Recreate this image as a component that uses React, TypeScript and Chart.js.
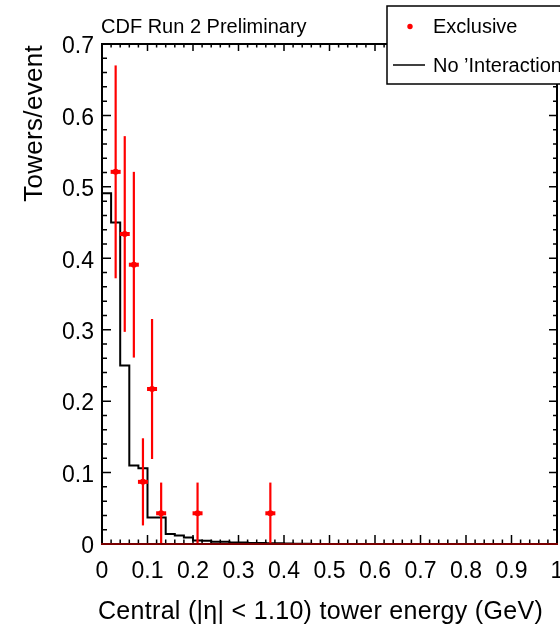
import React, { useEffect, useRef } from "react";
import { Chart, registerables } from "chart.js";

Chart.register(...registerables);

// ---------- data ----------
const binEdges = [
  0, 0.02, 0.04, 0.06, 0.08, 0.1, 0.12, 0.14, 0.16, 0.18, 0.2, 0.22, 0.24, 0.26, 0.28, 0.3,
  0.32, 0.34, 0.36, 0.38, 0.4, 0.42, 0.44, 0.46, 0.48, 0.5, 0.52, 0.54, 0.56, 0.58, 0.6,
  0.62, 0.64, 0.66, 0.68, 0.7, 0.72, 0.74, 0.76, 0.78, 0.8, 0.82, 0.84, 0.86, 0.88, 0.9,
  0.92, 0.94, 0.96, 0.98, 1.0,
];
// "No 'Interaction'" histogram content per bin (50 bins)
const noInteractionValues = [
  0.010, 0.491, 0.450, 0.250, 0.110, 0.106, 0.037, 0.037, 0.014, 0.012,
  0.009, 0.005, 0.0045, 0.003, 0.003, 0.002, 0.002, 0.0015, 0.0015, 0.001,
  0.001, 0.0008, 0.0005, 0.0005, 0, 0, 0, 0, 0, 0,
  0, 0, 0, 0, 0, 0, 0, 0, 0, 0,
  0, 0, 0, 0, 0, 0, 0, 0, 0, 0,
];
// "Exclusive" points with vertical errors
const exclusiveX = [0.03, 0.05, 0.07, 0.09, 0.11, 0.13, 0.21, 0.37];
const exclusiveY = [0.521, 0.434, 0.391, 0.087, 0.217, 0.043, 0.043, 0.043];
const exclusiveErr = [0.149, 0.137, 0.13, 0.061, 0.098, 0.043, 0.043, 0.043];

const xTickLabels = ["0", "0.1", "0.2", "0.3", "0.4", "0.5", "0.6", "0.7", "0.8", "0.9", "1"];
const yTickLabels = ["0", "0.1", "0.2", "0.3", "0.4", "0.5", "0.6", "0.7"];

const TITLE = "CDF Run 2 Preliminary";
const X_TITLE = "Central (|\u03b7| < 1.10) tower energy (GeV)";
const Y_TITLE = "Towers/event";
const LABEL_EXCL = "Exclusive";
const LABEL_NOINT = "No \u2019Interaction\u2019";

const FONT = "'Liberation Sans', Arial, Helvetica, sans-serif";

const decorPlugin = {
  id: "decor",
  afterDatasetsDraw(chart: any) {
    const ctx = chart.ctx;
    const xs = chart.scales.x;
    const ys = chart.scales.y;
    ctx.save();
    ctx.strokeStyle = "#ff0000";
    ctx.fillStyle = "#ff0000";
    exclusiveX.forEach((xv, i) => {
      const px = xs.getPixelForValue(xv);
      const py = ys.getPixelForValue(exclusiveY[i]);
      const pTop = ys.getPixelForValue(exclusiveY[i] + exclusiveErr[i]);
      const pBot = ys.getPixelForValue(Math.max(0, exclusiveY[i] - exclusiveErr[i]));
      ctx.lineWidth = 2.2;
      ctx.beginPath();
      ctx.moveTo(px, pTop);
      ctx.lineTo(px, pBot);
      ctx.stroke();
      ctx.fillRect(px - 5, py - 2, 10, 4);
      ctx.beginPath();
      ctx.arc(px, py, 3, 0, Math.PI * 2);
      ctx.fill();
    });
    ctx.restore();
  },
  afterDraw(chart: any) {
    const ctx = chart.ctx;
    const xs = chart.scales.x;
    const ys = chart.scales.y;
    const { left, right, top, bottom } = chart.chartArea;
    ctx.save();
    // frame
    ctx.strokeStyle = "#000";
    ctx.lineWidth = 2;
    ctx.beginPath();
    ctx.moveTo(left, bottom);
    ctx.lineTo(left, top);
    ctx.lineTo(right, top);
    ctx.lineTo(right, bottom);
    ctx.stroke();
    // ticks
    ctx.lineWidth = 1.5;
    ctx.beginPath();
    for (let k = 0; k <= 50; k++) {
      const v = k * 0.02;
      const px = xs.getPixelForValue(v);
      const major = k % 5 === 0;
      const lb = major ? 9 : 4.5;
      const lt = major ? 7 : 3.5;
      ctx.moveTo(px, bottom);
      ctx.lineTo(px, bottom - lb);
      ctx.moveTo(px, top);
      ctx.lineTo(px, top + lt);
    }
    for (let k = 0; k <= 35; k++) {
      const v = k * 0.02;
      const py = ys.getPixelForValue(v);
      const major = k % 5 === 0;
      const ll = major ? 9 : 5;
      const lr = major ? 8 : 4;
      ctx.moveTo(left, py);
      ctx.lineTo(left + ll, py);
      ctx.moveTo(right, py);
      ctx.lineTo(right - lr, py);
    }
    ctx.stroke();
    // bottom axis line (dark red)
    ctx.strokeStyle = "#7a0000";
    ctx.lineWidth = 2;
    ctx.beginPath();
    ctx.moveTo(left - 1, bottom);
    ctx.lineTo(right + 1, bottom);
    ctx.stroke();

    // titles
    ctx.fillStyle = "#000";
    ctx.textBaseline = "alphabetic";
    ctx.font = `20px ${FONT}`;
    ctx.textAlign = "left";
    ctx.fillText(TITLE, left - 1, 33);

    ctx.font = `25px ${FONT}`;
    ctx.textAlign = "left";
    (ctx as any).letterSpacing = "0.3px";
    ctx.fillText(X_TITLE, 98, 619);

    ctx.save();
    ctx.translate(42, top + 1);
    ctx.rotate(-Math.PI / 2);
    ctx.font = `26px ${FONT}`;
    ctx.textAlign = "right";
    ctx.fillText(Y_TITLE, 0, 0);
    ctx.restore();
    (ctx as any).letterSpacing = "0px";

    // legend
    const lx = 387, ly = 6, lw = 200, lh = 78;
    ctx.fillStyle = "#fff";
    ctx.fillRect(lx, ly, lw, lh);
    ctx.strokeStyle = "#000";
    ctx.lineWidth = 1.5;
    ctx.strokeRect(lx, ly, lw, lh);
    const dsEx = chart.data.datasets[0];
    const dsNo = chart.data.datasets[1];
    ctx.fillStyle = dsEx.pointBackgroundColor;
    ctx.beginPath();
    ctx.arc(410, 26.5, 2.7, 0, Math.PI * 2);
    ctx.fill();
    ctx.strokeStyle = dsNo.borderColor;
    ctx.lineWidth = 1.5;
    ctx.beginPath();
    ctx.moveTo(393, 65);
    ctx.lineTo(425, 65);
    ctx.stroke();
    ctx.fillStyle = "#000";
    ctx.font = `20px ${FONT}`;
    ctx.textAlign = "left";
    ctx.fillText(dsEx.label, 433, 33);
    ctx.fillText(dsNo.label, 433, 72);
    ctx.restore();
  },
};

export default function App() {
  const ref = useRef<HTMLCanvasElement | null>(null);
  useEffect(() => {
    if (!ref.current) return;
    const histData = binEdges.map((e, i) => ({
      x: e,
      y: i < noInteractionValues.length ? noInteractionValues[i] : noInteractionValues[noInteractionValues.length - 1],
    }));
    const exclData = exclusiveX.map((x, i) => ({ x, y: exclusiveY[i] }));
    const chart = new Chart(ref.current, {
      type: "scatter",
      data: {
        datasets: [
          {
            label: LABEL_EXCL,
            data: exclData,
            showLine: false,
            pointRadius: 0,
            pointBackgroundColor: "#ff0000",
            borderColor: "#ff0000",
          } as any,
          {
            label: LABEL_NOINT,
            type: "line",
            data: histData,
            stepped: "after",
            borderColor: "#000000",
            borderWidth: 2,
            pointRadius: 0,
            fill: false,
          } as any,
        ],
      },
      options: {
        responsive: false,
        animation: false,
        devicePixelRatio: 1,
        layout: { padding: { top: 44, right: 3, left: 0, bottom: 0 } },
        plugins: { legend: { display: false }, tooltip: { enabled: false }, title: { display: false } },
        scales: {
          x: {
            type: "linear",
            min: 0,
            max: 1,
            grid: { display: false, drawTicks: false },
            border: { display: false },
            ticks: {
              stepSize: 0.1,
              autoSkip: false,
              maxRotation: 0,
              color: "#000",
              padding: 14,
              font: { size: 23, family: FONT },
              callback: (v: any, i: number) => xTickLabels[i] ?? "",
            },
            afterFit: (s: any) => {
              s.height = 84;
              s.paddingLeft = 0;
              s.paddingRight = 0;
            },
          },
          y: {
            type: "linear",
            min: 0,
            max: 0.7,
            grid: { display: false, drawTicks: false },
            border: { display: false },
            ticks: {
              stepSize: 0.1,
              autoSkip: false,
              color: "#000",
              padding: 8,
              labelOffset: 3,
              font: { size: 23, family: FONT },
              callback: (v: any, i: number) => yTickLabels[i] ?? "",
            },
            afterFit: (s: any) => {
              s.width = 102;
              s.paddingTop = 0;
              s.paddingBottom = 0;
            },
          },
        },
      },
      plugins: [decorPlugin],
    });
    return () => chart.destroy();
  }, []);
  return (
    <div style={{ position: "absolute", left: 0, top: 0, width: 560, height: 628, background: "#fff" }}>
      <canvas ref={ref} width={560} height={628} style={{ display: "block" }} />
    </div>
  );
}
